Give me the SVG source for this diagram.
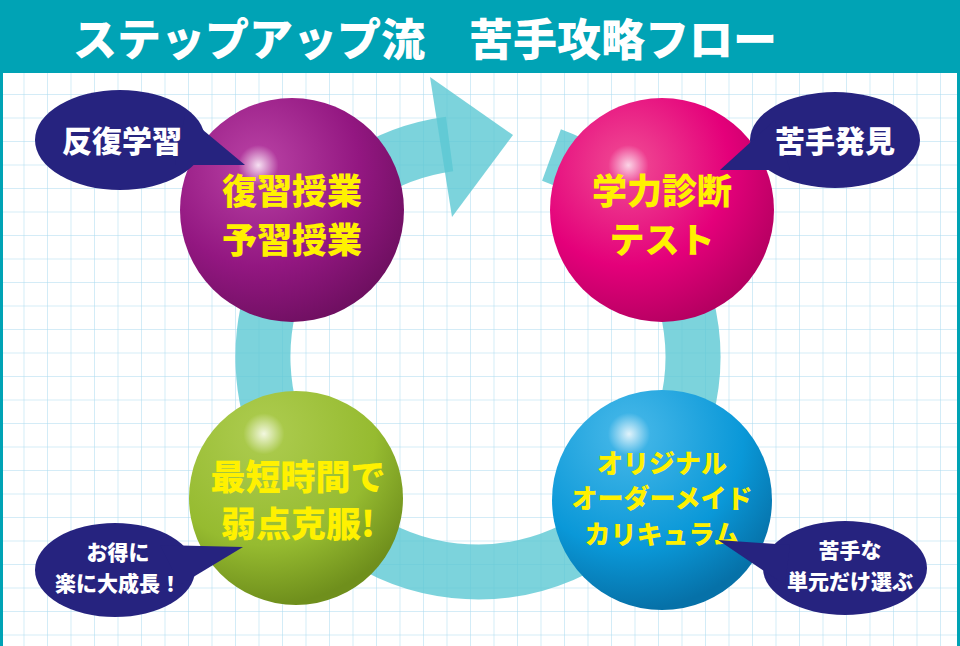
<svg xmlns="http://www.w3.org/2000/svg" width="960" height="646" viewBox="0 0 960 646">
<defs>
<pattern id="grid" x="0" y="0" width="23.5" height="23.5" patternUnits="userSpaceOnUse">
<path d="M0 0H23.5M0 0V23.5" fill="none" stroke="#a9daf0" stroke-width="1"/>
</pattern>
<radialGradient id="gP" cx="0.35" cy="0.3" r="0.75"><stop offset="0" stop-color="#f6e0f2"/><stop offset="0.12" stop-color="#b23a9e"/><stop offset="0.6" stop-color="#931781"/><stop offset="1" stop-color="#6e0f60"/></radialGradient>
<radialGradient id="gM" cx="0.35" cy="0.3" r="0.75"><stop offset="0" stop-color="#fbd4e6"/><stop offset="0.12" stop-color="#ee3d8f"/><stop offset="0.6" stop-color="#e4007a"/><stop offset="1" stop-color="#b30060"/></radialGradient>
<radialGradient id="gG" cx="0.35" cy="0.2" r="0.8"><stop offset="0" stop-color="#f3f8e0"/><stop offset="0.12" stop-color="#a9c94a"/><stop offset="0.65" stop-color="#96bb30"/><stop offset="1" stop-color="#6f8f1c"/></radialGradient>
<radialGradient id="gB" cx="0.35" cy="0.2" r="0.8"><stop offset="0" stop-color="#e0f3fb"/><stop offset="0.12" stop-color="#3db3e6"/><stop offset="0.65" stop-color="#0a98d8"/><stop offset="1" stop-color="#0671a8"/></radialGradient>
</defs>
<style>
.bt{font-family:"Noto Sans CJK JP","Noto Sans",sans-serif;font-weight:900;fill:#fff;text-anchor:middle}
.yt{font-family:"Noto Sans CJK JP","Noto Sans",sans-serif;font-weight:900;fill:#fff100;text-anchor:middle}
.bub{fill:#26237f}
</style>
<rect width="960" height="646" fill="#fff"/>
<rect x="2" y="73" width="958" height="573" fill="url(#grid)"/>
<rect x="0" y="73" width="3" height="573" fill="#00a3b5"/>
<rect x="957" y="73" width="3" height="573" fill="#00a3b5"/>
<rect x="0" y="0" width="960" height="73" fill="#00a3b5"/>
<text class="bt" x="425" y="56" font-size="44">ステップアップ流　苦手攻略フロー</text>
<g id="connectors" fill="#5bc8d3" fill-opacity="0.8">
<path d="M551.5 155 A215 215 0 1 1 449.6 143.9" fill="none" stroke="#5bc8d3" stroke-opacity="0.8" stroke-width="55"/>
<polygon points="430,77 513,135 452,217"/>
</g>
<g id="n1"><circle cx="292" cy="210" r="112" fill="url(#gP)"/>
<text class="yt" x="292" y="204" font-size="35">復習授業</text><text class="yt" x="292" y="253" font-size="35">予習授業</text></g>
<g id="n2"><circle cx="662" cy="210" r="112" fill="url(#gM)"/>
<text class="yt" x="662" y="204" font-size="35">学力診断</text><text class="yt" x="662" y="253" font-size="35">テスト</text></g>
<g id="n3"><circle cx="296" cy="498" r="107" fill="url(#gG)"/>
<text class="yt" x="298" y="490" font-size="35">最短時間で</text><text class="yt" x="298" y="537" font-size="35">弱点克服!</text></g>
<g id="n4"><circle cx="662" cy="500" r="110" fill="url(#gB)"/>
<text class="yt" x="662" y="473" font-size="26">オリジナル</text><text class="yt" x="662" y="508" font-size="26">オーダーメイド</text><text class="yt" x="662" y="544" font-size="26">カリキュラム</text></g>
<g id="b1"><ellipse class="bub" cx="120" cy="140" rx="85" ry="50"/><polygon class="bub" points="185,115 245,165 175,165"/>
<text class="bt" x="122" y="152" font-size="30">反復学習</text></g>
<g id="b2"><ellipse class="bub" cx="835" cy="140" rx="85" ry="48"/><polygon class="bub" points="775,120 720,170 790,170"/>
<text class="bt" x="835" y="152" font-size="30">苦手発見</text></g>
<g id="b3"><ellipse class="bub" cx="115" cy="570" rx="80" ry="47"/><polygon class="bub" points="160,545 243,547 180,585"/>
<text class="bt" x="118" y="560" font-size="21">お得に</text><text class="bt" x="118" y="591" font-size="21">楽に大成長！</text></g>
<g id="b4"><ellipse class="bub" cx="845" cy="568" rx="82" ry="47"/><polygon class="bub" points="790,545 718,540 785,585"/>
<text class="bt" x="850" y="558" font-size="21">苦手な</text><text class="bt" x="850" y="589" font-size="21">単元だけ選ぶ</text></g>
</svg>
